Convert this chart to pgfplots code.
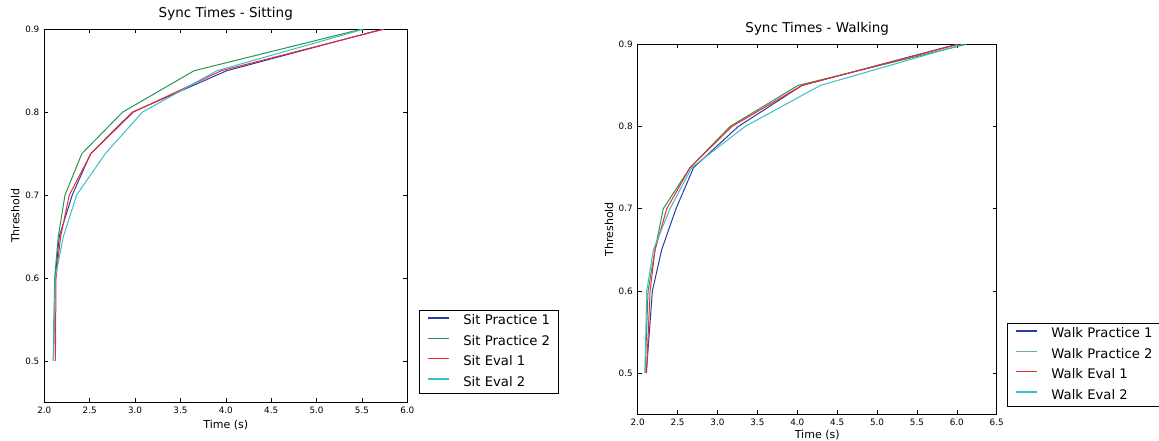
\documentclass[border=0pt]{standalone}
\usepackage{fontspec}
\setmainfont{DejaVu Sans}
\usepackage{pgfplots}
\pgfplotsset{compat=1.18}

\definecolor{cBlue}{RGB}{40,60,165}
\definecolor{cGreen}{RGB}{40,150,80}
\definecolor{cRed}{RGB}{240,40,50}
\definecolor{cCyan}{RGB}{60,190,200}

\pgfplotsset{
  syncstyle/.style={
    scale only axis,
    axis line style={line width=0.8pt},
    tick style={black, line width=0.6pt},
    major tick length=4pt,
    tick align=inside,
    ymin=0.45, ymax=0.9,
    ytick={0.5,0.6,0.7,0.8,0.9},
    ticklabel style={font=\fontsize{8.8}{10}\selectfont},
    /pgf/number format/assume math mode=true,
    /pgf/number format/.cd, fixed, fixed zerofill, precision=1, /pgfplots/.cd,
    yticklabel style={xshift=-1.5pt},
    xticklabel style={yshift=-1pt},
    title style={font=\fontsize{13.5}{16}\selectfont, at={(0.5,1)}, anchor=base},
    label style={font=\fontsize{11}{13}\selectfont},
    xlabel={Time (s)},
    ylabel={Threshold},
    legend cell align=left,
    legend style={
      anchor=north west, draw=black, line width=0.9pt,
      font=\fontsize{13.2}{15}\selectfont,
      inner xsep=8pt, inner ysep=5pt,
      row sep=8.5pt,
      nodes={inner sep=0pt, text height=9.5pt, text depth=2.5pt},
      /tikz/every odd column/.append style={column sep=13pt},
    },
    every axis plot/.append style={line width=1pt},
  },
  limg/.style 2 args={legend image code/.code={\draw[#1, line width=#2] (0pt,3.5pt) -- (21pt,3.5pt);}},
}

\begin{document}
\begin{tikzpicture}
\useasboundingbox (0,0) rectangle (1159pt,440pt);

\begin{axis}[syncstyle,
  at={(44.3pt,37.7pt)}, anchor=south west,
  width=363pt, height=373pt,
  xmin=2, xmax=6,
  xtick={2,2.5,3,3.5,4,4.5,5,5.5,6},
  title={Sync Times - Sitting},
  title style={yshift=5.5pt},
  xlabel style={at={(axis description cs:0.5,0)}, anchor=base, yshift=-26pt},
  ylabel style={at={(axis description cs:-0.08,0.5)}, anchor=center},
  legend style={at={(axis description cs:1.032,0.2475)}},
]
\addplot[cBlue, limg={cBlue}{2pt}] coordinates {
  (2.10,0.5) (2.12,0.6) (2.165,0.65) (2.308,0.7) (2.51,0.75) (2.97,0.8) (4.01,0.85) (5.72,0.9)};
\addlegendentry{Sit Practice 1}
\addplot[cGreen, limg={cGreen}{1pt}] coordinates {
  (2.099,0.5) (2.114,0.6) (2.154,0.65) (2.228,0.7) (2.414,0.75) (2.862,0.8) (3.65,0.85) (5.49,0.9)};
\addlegendentry{Sit Practice 2}
\addplot[cRed, limg={cRed}{1pt}] coordinates {
  (2.122,0.5) (2.129,0.6) (2.18,0.65) (2.275,0.7) (2.514,0.75) (2.98,0.8) (3.95,0.85) (5.74,0.9)};
\addlegendentry{Sit Eval 1}
\addplot[cCyan, limg={cCyan}{2pt}] coordinates {
  (2.10,0.5) (2.12,0.6) (2.21,0.65) (2.356,0.7) (2.672,0.75) (3.08,0.8) (3.90,0.85) (5.515,0.9)};
\addlegendentry{Sit Eval 2}
\end{axis}

\begin{axis}[syncstyle,
  at={(637.7pt,25.7pt)}, anchor=south west,
  width=359pt, height=370pt,
  xmin=2, xmax=6.5,
  xtick={2,2.5,3,3.5,4,4.5,5,5.5,6,6.5},
  title={Sync Times - Walking},
  title style={yshift=6.3pt},
  xlabel style={at={(axis description cs:0.5,0)}, anchor=base, yshift=-24pt},
  ylabel style={at={(axis description cs:-0.08,0.5)}, anchor=center},
  legend style={at={(axis description cs:1.0287,0.2468)}},
]
\addplot[cBlue, limg={cBlue}{2pt}] coordinates {
  (2.108,0.5) (2.184,0.6) (2.30,0.65) (2.48,0.7) (2.70,0.75) (3.26,0.8) (4.06,0.85) (6.00,0.9)};
\addlegendentry{Walk Practice 1}
\addplot[cGreen, limg={cGreen!70!white}{1pt}] coordinates {
  (2.092,0.5) (2.13,0.6) (2.217,0.65) (2.32,0.7) (2.656,0.75) (3.157,0.8) (4.01,0.85) (6.12,0.9)};
\addlegendentry{Walk Practice 2}
\addplot[cRed, limg={cRed}{1pt}] coordinates {
  (2.11,0.5) (2.155,0.6) (2.217,0.65) (2.364,0.7) (2.656,0.75) (3.18,0.8) (4.06,0.85) (6.02,0.9)};
\addlegendentry{Walk Eval 1}
\addplot[cCyan, limg={cCyan}{2pt}] coordinates {
  (2.09,0.5) (2.113,0.6) (2.196,0.65) (2.405,0.7) (2.677,0.75) (3.345,0.8) (4.29,0.85) (6.08,0.9)};
\addlegendentry{Walk Eval 2}
\end{axis}
\end{tikzpicture}
\end{document}
